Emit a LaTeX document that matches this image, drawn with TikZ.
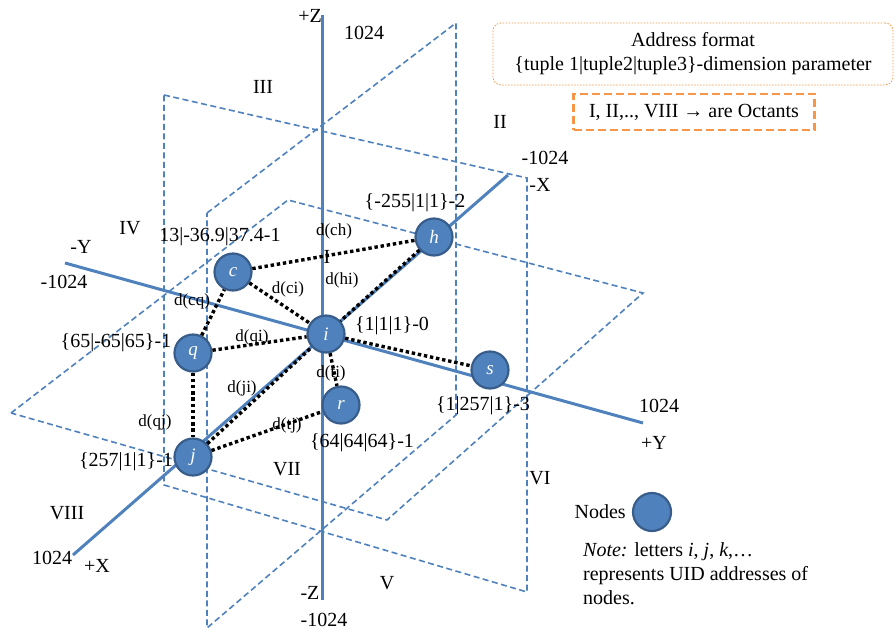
\documentclass[tikz,border=0pt]{standalone}
\usepackage{fontspec}
\setmainfont{Liberation Serif}
\usetikzlibrary{positioning}

\definecolor{axblue}{HTML}{4F81BD}
\definecolor{nodeedge}{HTML}{385D8A}
\definecolor{legorange}{HTML}{F79646}

\tikzset{
    axis/.style={axblue, line width=3pt},
    plane/.style={axblue, line width=1.6pt, dash pattern=on 6pt off 3.5pt},
    uid/.style={circle, fill=axblue, draw=nodeedge, line width=2.2pt, minimum size=37pt,
        inner sep=0pt, text=white, font=\fontsize{19}{19}\selectfont\itshape},
    link/.style={black, line width=3.4pt, dash pattern=on 3.4pt off 2.8pt},
    addr/.style={font=\fontsize{20}{24}\selectfont, inner sep=1pt},
    dist/.style={font=\fontsize{17}{20}\selectfont, inner sep=1pt},
    oct/.style={font=\fontsize{20}{24}\selectfont, inner sep=1pt}
}

\begin{document}
\begin{tikzpicture}[x=1pt, y=-1pt]
        \useasboundingbox (0,0) rectangle (896,632);

        % 三个平面
        \draw[plane] (11,413) -- (288,200) -- (643,293) -- (387,520) -- cycle;
        \draw[plane] (164,95) -- (527,178) -- (527,592) -- (164,485) -- cycle;
        \draw[plane] (207,213) -- (456,23) -- (456,415) -- (207,628) -- cycle;

        % 坐标轴
        \coordinate (zp) at (322,15);
        \coordinate (zm) at (322,600);
        \coordinate (ym) at (65,263);
        \coordinate (yp) at (643,423);
        \coordinate (xp) at (73,555);
        \coordinate (xm) at (508,175);
        \draw[axis] (zp) -- (zm);
        \draw[axis] (ym) -- (yp);
        \draw[axis] (xp) -- (xm);

        \node[oct] (lzp) at (310,16) {+Z};
        \node[oct] (vzp) at (364,33) {1024};
        \node[oct] (lzm) at (310,593) {-Z};
        \node[oct] (vzm) at (324,620) {-1024};
        \node[oct] (lym) at (81,247) {-Y};
        \node[oct] (vym) at (64,282) {-1024};
        \node[oct] (vyp) at (659,406) {1024};
        \node[oct] (lyp) at (654,443) {+Y};
        \node[oct] (vxm) at (545,158) {-1024};
        \node[oct] (lxm) at (540,185) {-X};
        \node[oct] (vxp) at (52,558) {1024};
        \node[oct] (lxp) at (97,566) {+X};

        % 卦限
        \node[oct] (o1) at (327,257) {I};
        \node[oct] (o2) at (500,122) {II};
        \node[oct] (o3) at (263,87) {III};
        \node[oct] (o4) at (130,228) {IV};
        \node[oct] (o5) at (387,583) {V};
        \node[oct] (o6) at (540,478) {VI};
        \node[oct] (o7) at (287,469) {VII};
        \node[oct] (o8) at (67,513) {VIII};

        % 节点
        \node[uid] (i) at (326,334) {i};
        \node[uid] (c) at (233,272) {c};
        \node[uid] (h) at (434,237) {h};
        \node[uid] (q) at (193,353) {q};
        \node[uid] (j) at (193,457) {j};
        \node[uid] (r) at (341,405) {r};
        \node[uid] (s) at (490,370) {s};

        % 连线
        \draw[link] (c) -- (h);
        \draw[link] (c) -- (i);
        \draw[link] (h) -- (i);
        \draw[link] (q) -- (c);
        \draw[link] (q) -- (i);
        \draw[link] (j) -- (i);
        \draw[link] (q) -- (j);
        \draw[link] (i) -- (r);
        \draw[link] (j) -- (r);
        \draw[link] (i) -- (s);

        \node[dist] (dch) at (334,231) {d(ch)};
        \node[dist] (dci) at (288,289) {d(ci)};
        \node[dist] (dhi) at (342,280) {d(hi)};
        \node[dist] (dcq) at (192,301) {d(cq)};
        \node[dist] (dqi) at (252,337) {d(qi)};
        \node[dist] (dji) at (242,388) {d(ji)};
        \node[dist] (dqj) at (155,422) {d(qj)};
        \node[dist] (dti) at (331,373) {d(ti)};
        \node[dist] (dtj) at (287,425) {d(tj)};

        % 地址
        \node[addr] (ah) at (415,203) {\{-255|1|1\}-2};
        \node[addr] (ac) at (220,237) {13|-36.9|37.4-1};
        \node[addr] (ai) at (392,326) {\{1|1|1\}-0};
        \node[addr] (aq) at (116,343) {\{65|-65|65\}-1};
        \node[addr] (as) at (483,406) {\{1|257|1\}-3};
        \node[addr] (ar) at (362,443) {\{64|64|64\}-1};
        \node[addr] (aj) at (126,462) {\{257|1|1\}-1};

        % 图例
        \node[addr, draw=legorange, rounded corners=8pt, line width=0.8pt,
            dash pattern=on 1.5pt off 1.5pt, minimum width=400pt, minimum height=62pt,
            align=center] (fmt) at (693,54)
            {Address format\\\{tuple 1|tuple2|tuple3\}-dimension parameter};
        \node[addr, draw=legorange, line width=2.5pt, dash pattern=on 8pt off 4pt,
            minimum width=241pt, minimum height=36pt] (octs) at (694,112)
            {I, II,.., VIII \textbf{→} are Octants};
        \node[uid, minimum size=38pt] (legnode) at (652,512) {};
        \node[addr, left=5pt of legnode] (legtxt) {Nodes};
        \node[addr, inner sep=0pt, align=left, anchor=north west] (note) at (583,542)
            {\textit{Note:} letters \textit{i}, \textit{j}, \textit{k},…\\
             represents UID addresses of\\nodes.};

    \end{tikzpicture}
\end{document}
